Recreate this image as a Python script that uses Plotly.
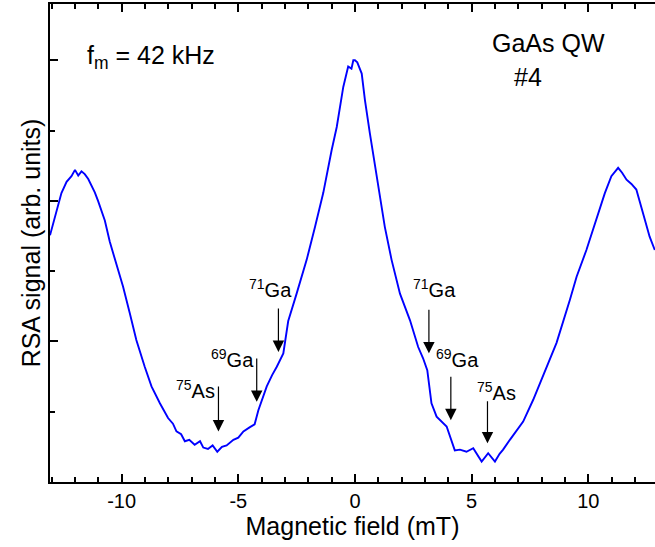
import plotly.graph_objects as go

# ---- data ----
field = [-13.07, -12.86, -12.58, -12.36, -12.15, -12.00, -11.86, -11.72, -11.58, -11.43,
         -11.29, -11.15, -11.01, -10.86, -10.72, -10.51, -10.22, -9.94, -9.65, -9.37,
         -9.01, -8.72, -8.36, -8.01, -7.80, -7.65, -7.45, -7.29, -7.10, -6.87,
         -6.64, -6.50, -6.30, -6.10, -5.90, -5.70, -5.50, -5.21, -5.00, -4.78,
         -4.50, -4.30, -4.14, -3.95, -3.78, -3.55, -3.35, -3.07, -2.86, -2.50,
         -2.07, -1.71, -1.36, -1.00, -0.78, -0.50, -0.29, -0.15, -0.07, 0.00,
         0.10, 0.29, 0.43, 0.64, 0.86, 1.07, 1.28, 1.57, 1.93, 2.36,
         2.71, 2.92, 3.10, 3.28, 3.50, 3.93, 4.14, 4.28, 4.50, 4.78,
         5.07, 5.25, 5.43, 5.71, 5.85, 6.00, 6.20, 6.35, 6.64, 7.21,
         7.64, 8.06, 8.64, 9.21, 9.50, 9.92, 10.35, 10.71, 10.99, 11.15,
         11.28, 11.45, 11.64, 11.85, 12.06, 12.35, 12.63, 12.85]
signal = [3.51, 3.77, 4.11, 4.27, 4.35, 4.44, 4.36, 4.42, 4.38, 4.31,
          4.22, 4.12, 4.00, 3.86, 3.72, 3.42, 3.11, 2.78, 2.40, 2.02,
          1.64, 1.36, 1.12, 0.91, 0.83, 0.72, 0.68, 0.58, 0.60, 0.53,
          0.58, 0.49, 0.47, 0.52, 0.43, 0.50, 0.52, 0.60, 0.63, 0.72,
          0.78, 0.82, 1.02, 1.20, 1.36, 1.52, 1.64, 1.83, 2.29, 2.68,
          3.16, 3.63, 4.11, 4.72, 5.05, 5.62, 5.91, 5.88, 6.00, 6.00,
          5.97, 5.81, 5.43, 4.96, 4.49, 4.11, 3.63, 3.16, 2.68, 2.30,
          1.92, 1.76, 1.59, 1.12, 0.93, 0.79, 0.60, 0.45, 0.46, 0.43,
          0.48, 0.38, 0.29, 0.41, 0.35, 0.29, 0.40, 0.46, 0.60, 0.86,
          1.17, 1.50, 1.98, 2.59, 2.92, 3.30, 3.73, 4.11, 4.35, 4.42,
          4.47, 4.40, 4.30, 4.24, 4.16, 3.82, 3.49, 3.30]

x_tick_vals = [-10, -5, 0, 5, 10]
x_tick_text = ["-10", "-5", "0", "5", "10"]

# nuclear resonance markers
nuc_labels = ["<sup>75</sup>As", "<sup>69</sup>Ga", "<sup>71</sup>Ga",
              "<sup>71</sup>Ga", "<sup>69</sup>Ga", "<sup>75</sup>As"]
arrow_x = [-5.85, -4.21, -3.28, 3.17, 4.11, 5.68]
arrow_top = [1.38, 1.78, 2.49, 2.47, 1.52, 1.17]
arrow_tip = [0.72, 1.14, 1.85, 1.83, 0.88, 0.55]
label_x = [-6.83, -5.25, -3.62, 3.39, 4.41, 6.06]
label_y = [1.32, 1.76, 2.75, 2.75, 1.76, 1.29]

FONT = "Arial, Liberation Sans, sans-serif"

fig = go.Figure()
fig.add_trace(go.Scatter(x=field, y=signal, mode="lines",
                         line=dict(color="#0000ff", width=1.9),
                         showlegend=False, hoverinfo="skip"))

annotations = []
for lx, ly, lab in zip(label_x, label_y, nuc_labels):
    annotations.append(dict(x=lx, y=ly, xref="x", yref="y", text=lab, showarrow=False,
                            font=dict(family=FONT, size=20, color="black"),
                            xanchor="center", yanchor="middle"))
for ax_, top, tip in zip(arrow_x, arrow_top, arrow_tip):
    annotations.append(dict(x=ax_, y=tip, xref="x", yref="y", ax=ax_, ay=top,
                            axref="x", ayref="y", text="", showarrow=True,
                            arrowhead=2, arrowsize=1.9, arrowwidth=1.2,
                            arrowcolor="black", standoff=0, startstandoff=0))

annotations += [
    dict(x=0.058, y=0.889, xref="paper", yref="paper", text="f<sub>m</sub> = 42 kHz",
         showarrow=False, xanchor="left", yanchor="middle",
         font=dict(family=FONT, size=25, color="black")),
    dict(x=0.727, y=0.918, xref="paper", yref="paper", text="GaAs QW",
         showarrow=False, xanchor="left", yanchor="middle",
         font=dict(family=FONT, size=25, color="black")),
    dict(x=0.764, y=0.847, xref="paper", yref="paper", text="#4",
         showarrow=False, xanchor="left", yanchor="middle",
         font=dict(family=FONT, size=25, color="black")),
]

fig.update_layout(
    width=655, height=547,
    margin=dict(l=50, r=0, t=4, b=65, autoexpand=False),
    paper_bgcolor="white", plot_bgcolor="white",
    font=dict(family=FONT, color="black"),
    annotations=annotations,
    xaxis=dict(range=[-13.07, 12.86], tickvals=x_tick_vals, ticktext=x_tick_text,
               ticks="inside", ticklen=8, tickwidth=1.5, tickcolor="black",
               minor=dict(dtick=1, ticks="inside", ticklen=5, tickwidth=1.5, tickcolor="black"),
               showline=True, linewidth=2, linecolor="black", mirror="allticks",
               showgrid=False, zeroline=False,
               tickfont=dict(family=FONT, size=20, color="black"),
               title=dict(text="Magnetic field (mT)", standoff=5,
                          font=dict(family=FONT, size=25, color="black"))),
    yaxis=dict(range=[0, 6.8], tickvals=[0, 2, 4, 6], showticklabels=False,
               ticks="inside", ticklen=8, tickwidth=1.5, tickcolor="black",
               minor=dict(tickvals=[1, 3, 5], ticks="inside", ticklen=5, tickwidth=1.5, tickcolor="black"),
               showline=True, linewidth=2, linecolor="black", mirror=False,
               showgrid=False, zeroline=False,
               title=dict(text="RSA signal (arb. units)", standoff=0,
                          font=dict(family=FONT, size=25, color="black"))),
)

fig.write_html("out.html", config={"displayModeBar": False},
               post_script="document.body.style.margin='0';document.body.style.padding='0';")
